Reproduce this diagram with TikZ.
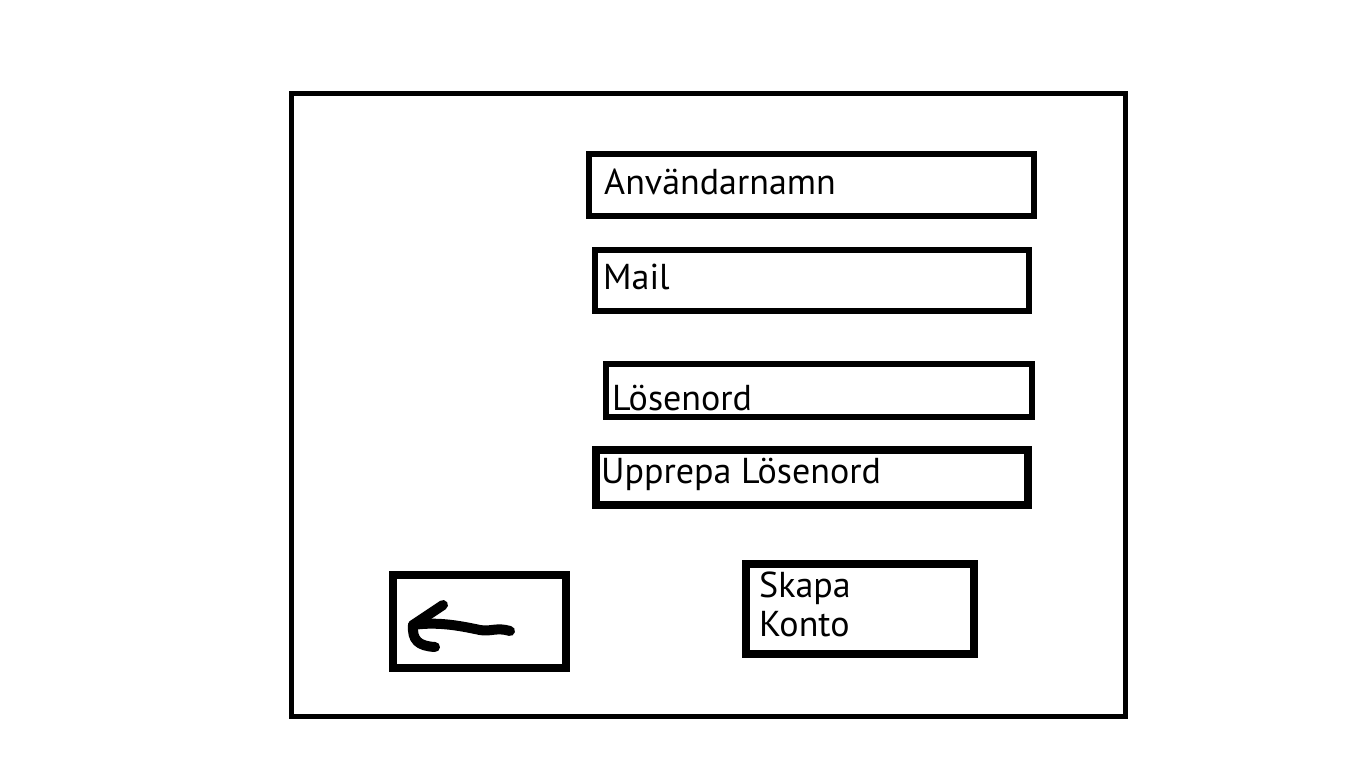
\documentclass[tikz,border=0pt]{standalone}
\usepackage{fontspec}
\setmainfont{PT Sans}
\begin{document}
\begin{tikzpicture}[x=1pt,y=-1pt,
  box/.style={draw=black,rectangle,inner sep=0pt,fill=none},
  lbl/.style={anchor=base west,inner sep=0pt,font=\fontsize{36}{40}\selectfont},
  pen/.style={line width=10pt,line cap=round,line join=round}]
\useasboundingbox[fill=white] (0,0) rectangle (1366,768);
\node[box,line width=5pt,minimum width=833.5pt,minimum height=623pt] (frame) at (708.25,405) {};
\node[box,line width=6pt,minimum width=445pt,minimum height=62pt] (user) at (811.5,185) {};
\node[box,line width=5.5pt,minimum width=434pt,minimum height=61pt] (mail) at (812,280.5) {};
\node[box,line width=6pt,minimum width=426pt,minimum height=53pt] (pass) at (819,390.5) {};
\node[box,line width=7.5pt,minimum width=432pt,minimum height=55pt] (repeat) at (812,477.5) {};
\node[box,line width=7.5pt,minimum width=228pt,minimum height=90pt] (create) at (860,609) {};
\node[box,line width=7.5pt,minimum width=173pt,minimum height=93pt] (back) at (479.5,621.5) {};
\node[lbl] (tuser) at (604,194) {Användarnamn};
\node[lbl] (tmail) at (603,289) {Mail};
\node[lbl] (tpass) at (612,410) {Lösenord};
\node[lbl] (trepeat) at (601,483) {Upprepa Lösenord};
\node[lbl] (tskapa) at (759,597) {Skapa};
\node[lbl] (tkonto) at (759,636) {Konto};
\coordinate (tip) at (413,625);
\draw[pen] (510,631) .. controls (497,627) and (490,632) .. (480,630)
  .. controls (465,627) and (440,621) .. (tip);
\draw[pen] (tip) -- (443,605);
\draw[pen] (tip) .. controls (412,640) and (418,646) .. (435,647);
\end{tikzpicture}
\end{document}
